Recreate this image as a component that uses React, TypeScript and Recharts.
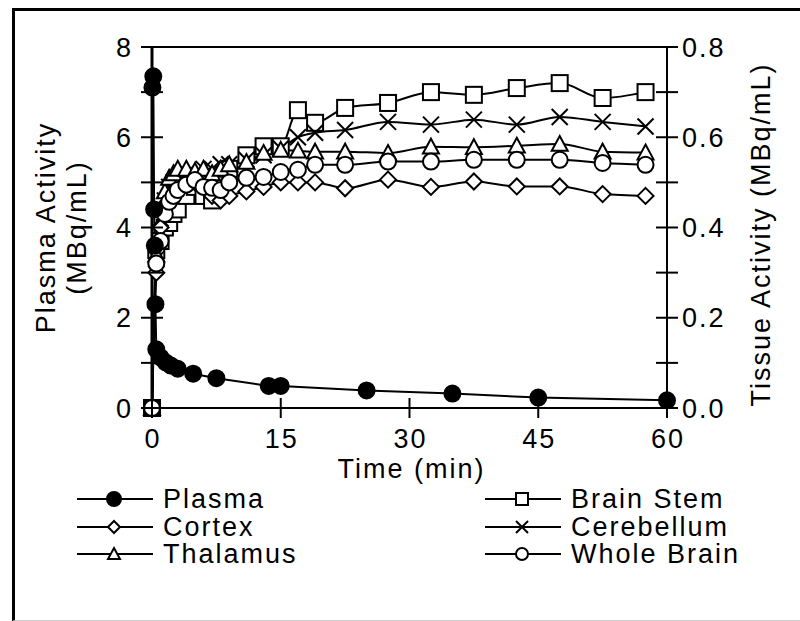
import React from 'react';
import { LineChart, Line, XAxis, YAxis, Legend, ReferenceLine } from 'recharts';

// plasma samples (min, MBq/mL) - left axis
const plasmaTimes = [0.05, 0.15, 0.25, 0.33, 0.4, 0.5, 1, 1.6, 2.2, 3, 4.8, 7.5, 13.6, 15, 25, 35, 45, 60];
const plasmaValues = [7.1, 7.35, 4.4, 3.6, 2.3, 1.3, 1.12, 1.01, 0.94, 0.87, 0.76, 0.66, 0.49, 0.49, 0.39, 0.32, 0.23, 0.17];

// tissue samples (min, MBq/mL) - right axis
const tissueTimes = [0, 0.5, 1, 1.5, 2, 2.5, 3, 4, 5, 6, 7, 8, 9, 11, 13, 15, 17, 19, 22.5, 27.5, 32.5, 37.5, 42.5, 47.5, 52.5, 57.5];
const brainStem = [0, 0.35, 0.37, 0.4, 0.41, 0.43, 0.44, 0.47, 0.49, 0.47, 0.46, 0.5, 0.53, 0.56, 0.58, 0.58, 0.66, 0.632, 0.665, 0.676, 0.7, 0.694, 0.709, 0.72, 0.687, 0.7];
const cortex = [0, 0.3, 0.4, 0.45, 0.48, 0.5, 0.51, 0.52, 0.5, 0.49, 0.47, 0.46, 0.47, 0.48, 0.49, 0.5, 0.5, 0.5, 0.487, 0.506, 0.49, 0.502, 0.491, 0.491, 0.474, 0.47];
const cerebellum = [0, 0.33, 0.42, 0.46, 0.49, 0.5, 0.51, 0.52, 0.52, 0.53, 0.53, 0.54, 0.54, 0.55, 0.56, 0.575, 0.6, 0.61, 0.616, 0.634, 0.628, 0.639, 0.628, 0.645, 0.634, 0.624];
const thalamus = [0, 0.34, 0.44, 0.48, 0.51, 0.52, 0.53, 0.53, 0.525, 0.53, 0.52, 0.53, 0.54, 0.545, 0.565, 0.572, 0.57, 0.568, 0.568, 0.565, 0.579, 0.578, 0.581, 0.585, 0.568, 0.566];
const wholeBrain = [0, 0.32, 0.37, 0.43, 0.457, 0.47, 0.483, 0.495, 0.505, 0.49, 0.488, 0.483, 0.5, 0.51, 0.512, 0.523, 0.528, 0.539, 0.539, 0.546, 0.546, 0.55, 0.55, 0.55, 0.543, 0.539];

const timeTicks = [0, 15, 30, 45, 60];
const plasmaTicks = [0, 1, 2, 3, 4, 5, 6, 7, 8];
const tissueTicks = [0, 0.1, 0.2, 0.3, 0.4, 0.5, 0.6, 0.7, 0.8];

const plasmaData = plasmaTimes.map((t, i) => ({ t, plasma: plasmaValues[i] }));
const tissueData = tissueTimes.map((t, i) => ({
  t,
  brainStem: brainStem[i],
  cortex: cortex[i],
  cerebellum: cerebellum[i],
  thalamus: thalamus[i],
  wholeBrain: wholeBrain[i],
}));

const FONT = '"Liberation Sans", Arial, sans-serif';
const FS = 27;
const LS = 2;

type Shape = 'filled' | 'square' | 'diamond' | 'cross' | 'triangle' | 'circle';

const Marker = ({ cx, cy, shape, s = 8 }: { cx: number; cy: number; shape: Shape; s?: number }) => {
  const st = { stroke: '#000', strokeWidth: 2 };
  switch (shape) {
    case 'filled':
      return <circle cx={cx} cy={cy} r={s} fill="#000" {...st} />;
    case 'square':
      return <rect x={cx - s} y={cy - s} width={2 * s} height={2 * s} fill="#fff" {...st} />;
    case 'diamond':
      return <polygon points={`${cx},${cy - s} ${cx + s},${cy} ${cx},${cy + s} ${cx - s},${cy}`} fill="#fff" {...st} />;
    case 'triangle':
      return <polygon points={`${cx},${cy - s} ${cx + s},${cy + s * 0.85} ${cx - s},${cy + s * 0.85}`} fill="#fff" {...st} />;
    case 'cross':
      return (
        <g>
          <line x1={cx - s} y1={cy - s} x2={cx + s} y2={cy + s} {...st} />
          <line x1={cx - s} y1={cy + s} x2={cx + s} y2={cy - s} {...st} />
        </g>
      );
    default:
      return <circle cx={cx} cy={cy} r={s} fill="#fff" {...st} />;
  }
};

const dotFor = (shape: Shape) => (p: any) => {
  if (p.cx == null || p.cy == null) return <g key={p.index} />;
  return <Marker key={p.index} cx={p.cx} cy={p.cy} shape={shape} />;
};

const tissueSeries: { key: string; name: string; shape: Shape }[] = [
  { key: 'brainStem', name: 'Brain Stem', shape: 'square' },
  { key: 'cortex', name: 'Cortex', shape: 'diamond' },
  { key: 'cerebellum', name: 'Cerebellum', shape: 'cross' },
  { key: 'thalamus', name: 'Thalamus', shape: 'triangle' },
  { key: 'wholeBrain', name: 'Whole Brain', shape: 'circle' },
];

const legendCols: { name: string; shape: Shape }[][] = [
  [
    { name: 'Plasma', shape: 'filled' },
    { name: 'Cortex', shape: 'diamond' },
    { name: 'Thalamus', shape: 'triangle' },
  ],
  [
    { name: 'Brain Stem', shape: 'square' },
    { name: 'Cerebellum', shape: 'cross' },
    { name: 'Whole Brain', shape: 'circle' },
  ],
];

const textStyle = { fontFamily: FONT, fontSize: FS, letterSpacing: LS, fill: '#000' };

const LeftTick = (props: any) => {
  const { x, y, payload } = props;
  const v = payload.value;
  return (
    <g>
      <line x1={x - 11} x2={x + 11} y1={y} y2={y} stroke="#000" strokeWidth={2} />
      {v % 2 === 0 && (
        <text x={x - 19} y={y} dy="0.36em" textAnchor="end" style={textStyle}>
          {v}
        </text>
      )}
    </g>
  );
};

const RightTick = (props: any) => {
  const { x, y, payload } = props;
  const n = Math.round(payload.value * 10);
  return (
    <g>
      <line x1={x - 11} x2={x + 11} y1={y} y2={y} stroke="#000" strokeWidth={2} />
      {n % 2 === 0 && (
        <text x={x + 15} y={y} dy="0.36em" textAnchor="start" style={textStyle}>
          {(n / 10).toFixed(1)}
        </text>
      )}
    </g>
  );
};

const BottomTick = (props: any) => {
  const { x, y, payload } = props;
  return (
    <g>
      <line x1={x} x2={x} y1={y - 10} y2={y + 10} stroke="#000" strokeWidth={2} />
      <text x={x + 1} y={y + 40} textAnchor="middle" style={textStyle}>
        {payload.value}
      </text>
    </g>
  );
};

const leftTitle = (props: any) => {
  const vb = props.viewBox || { x: 0, y: 47, width: 152, height: 361 };
  const cy = vb.y + vb.height / 2;
  return (
    <g>
      <text x={45} y={cy} transform={`rotate(-90 45 ${cy})`} textAnchor="middle" dy="0.36em" style={textStyle}>
        Plasma Activity
      </text>
      <text x={76} y={cy} transform={`rotate(-90 76 ${cy})`} textAnchor="middle" dy="0.36em" style={textStyle}>
        (MBq/mL)
      </text>
    </g>
  );
};

const rightTitle = (props: any) => {
  const vb = props.viewBox || { x: 667, y: 47, width: 133, height: 361 };
  const cy = vb.y + vb.height / 2 + 7;
  const x = 760;
  return (
    <text x={x} y={cy} transform={`rotate(-90 ${x} ${cy})`} textAnchor="middle" dy="0.36em" style={textStyle}>
      Tissue Activity (MBq/mL)
    </text>
  );
};

const bottomTitle = (props: any) => {
  const vb = props.viewBox || { x: 152, y: 408, width: 515, height: 60 };
  const cx = vb.x + vb.width / 2;
  return (
    <text x={cx + 2} y={478} textAnchor="middle" style={textStyle}>
      Time (min)
    </text>
  );
};

const renderLegend = () => (
  <div style={{ position: 'relative', width: 800, height: 90 }}>
    {legendCols.map((col, ci) =>
      col.map((item, ri) => (
        <div
          key={item.name}
          style={{
            position: 'absolute',
            left: ci === 0 ? 77 : 485,
            top: ri * 27.5,
            height: 28,
            display: 'flex',
            alignItems: 'center',
          }}
        >
          <svg width={76} height={28}>
            <line x1={0} x2={76} y1={14} y2={14} stroke="#000" strokeWidth={2} />
            <Marker cx={37} cy={14} shape={item.shape} s={item.shape === 'filled' ? 7 : 6} />
          </svg>
          <span style={{ marginLeft: 10, fontFamily: FONT, fontSize: FS, letterSpacing: LS, lineHeight: '28px' }}>
            {item.name}
          </span>
        </div>
      ))
    )}
  </div>
);

export default function App() {
  return (
    <div style={{ position: 'absolute', left: 0, top: 0, width: 800, height: 621, background: '#fff' }}>
      <div
        style={{
          position: 'absolute',
          left: 12,
          top: 8,
          width: 788,
          height: 613,
          borderTop: '3px solid #000',
          borderLeft: '3px solid #000',
          borderBottom: '1px solid #ccc',
          boxSizing: 'border-box',
        }}
      />
      <LineChart width={800} height={621} data={tissueData} margin={{ top: 47, right: 0, bottom: 153, left: 0 }}>
        <XAxis
          dataKey="t"
          type="number"
          domain={[0, 60]}
          ticks={timeTicks}
          interval={0}
          height={60}
          tickSize={0}
          tickMargin={0}
          tick={BottomTick}
          axisLine={{ stroke: '#000', strokeWidth: 2 }}
          label={bottomTitle}
        />
        <YAxis
          yAxisId="left"
          orientation="left"
          domain={[0, 8]}
          ticks={plasmaTicks}
          interval={0}
          width={152}
          tickSize={0}
          tickMargin={0}
          tick={LeftTick}
          axisLine={{ stroke: '#000', strokeWidth: 3 }}
          label={leftTitle}
        />
        <YAxis
          yAxisId="right"
          orientation="right"
          domain={[0, 0.8]}
          ticks={tissueTicks}
          interval={0}
          width={133}
          tickSize={0}
          tickMargin={0}
          tick={RightTick}
          axisLine={{ stroke: '#000', strokeWidth: 2 }}
          label={rightTitle}
        />
        <ReferenceLine yAxisId="left" y={8} stroke="#000" strokeWidth={2} />
        <Legend
          layout="horizontal"
          verticalAlign="middle"
          align="center"
          wrapperStyle={{ top: 485, left: 0, width: 800 }}
          content={renderLegend}
        />
        {tissueSeries.map((s) => (
          <Line
            key={s.key}
            yAxisId="right"
            type="monotone"
            dataKey={s.key}
            name={s.name}
            stroke="#000"
            strokeWidth={2}
            dot={dotFor(s.shape)}
            activeDot={false}
            isAnimationActive={false}
          />
        ))}
        <Line
          yAxisId="left"
          data={plasmaData}
          type="linear"
          dataKey="plasma"
          name="Plasma"
          stroke="#000"
          strokeWidth={2}
          dot={dotFor('filled')}
          activeDot={false}
          isAnimationActive={false}
        />
      </LineChart>
    </div>
  );
}
